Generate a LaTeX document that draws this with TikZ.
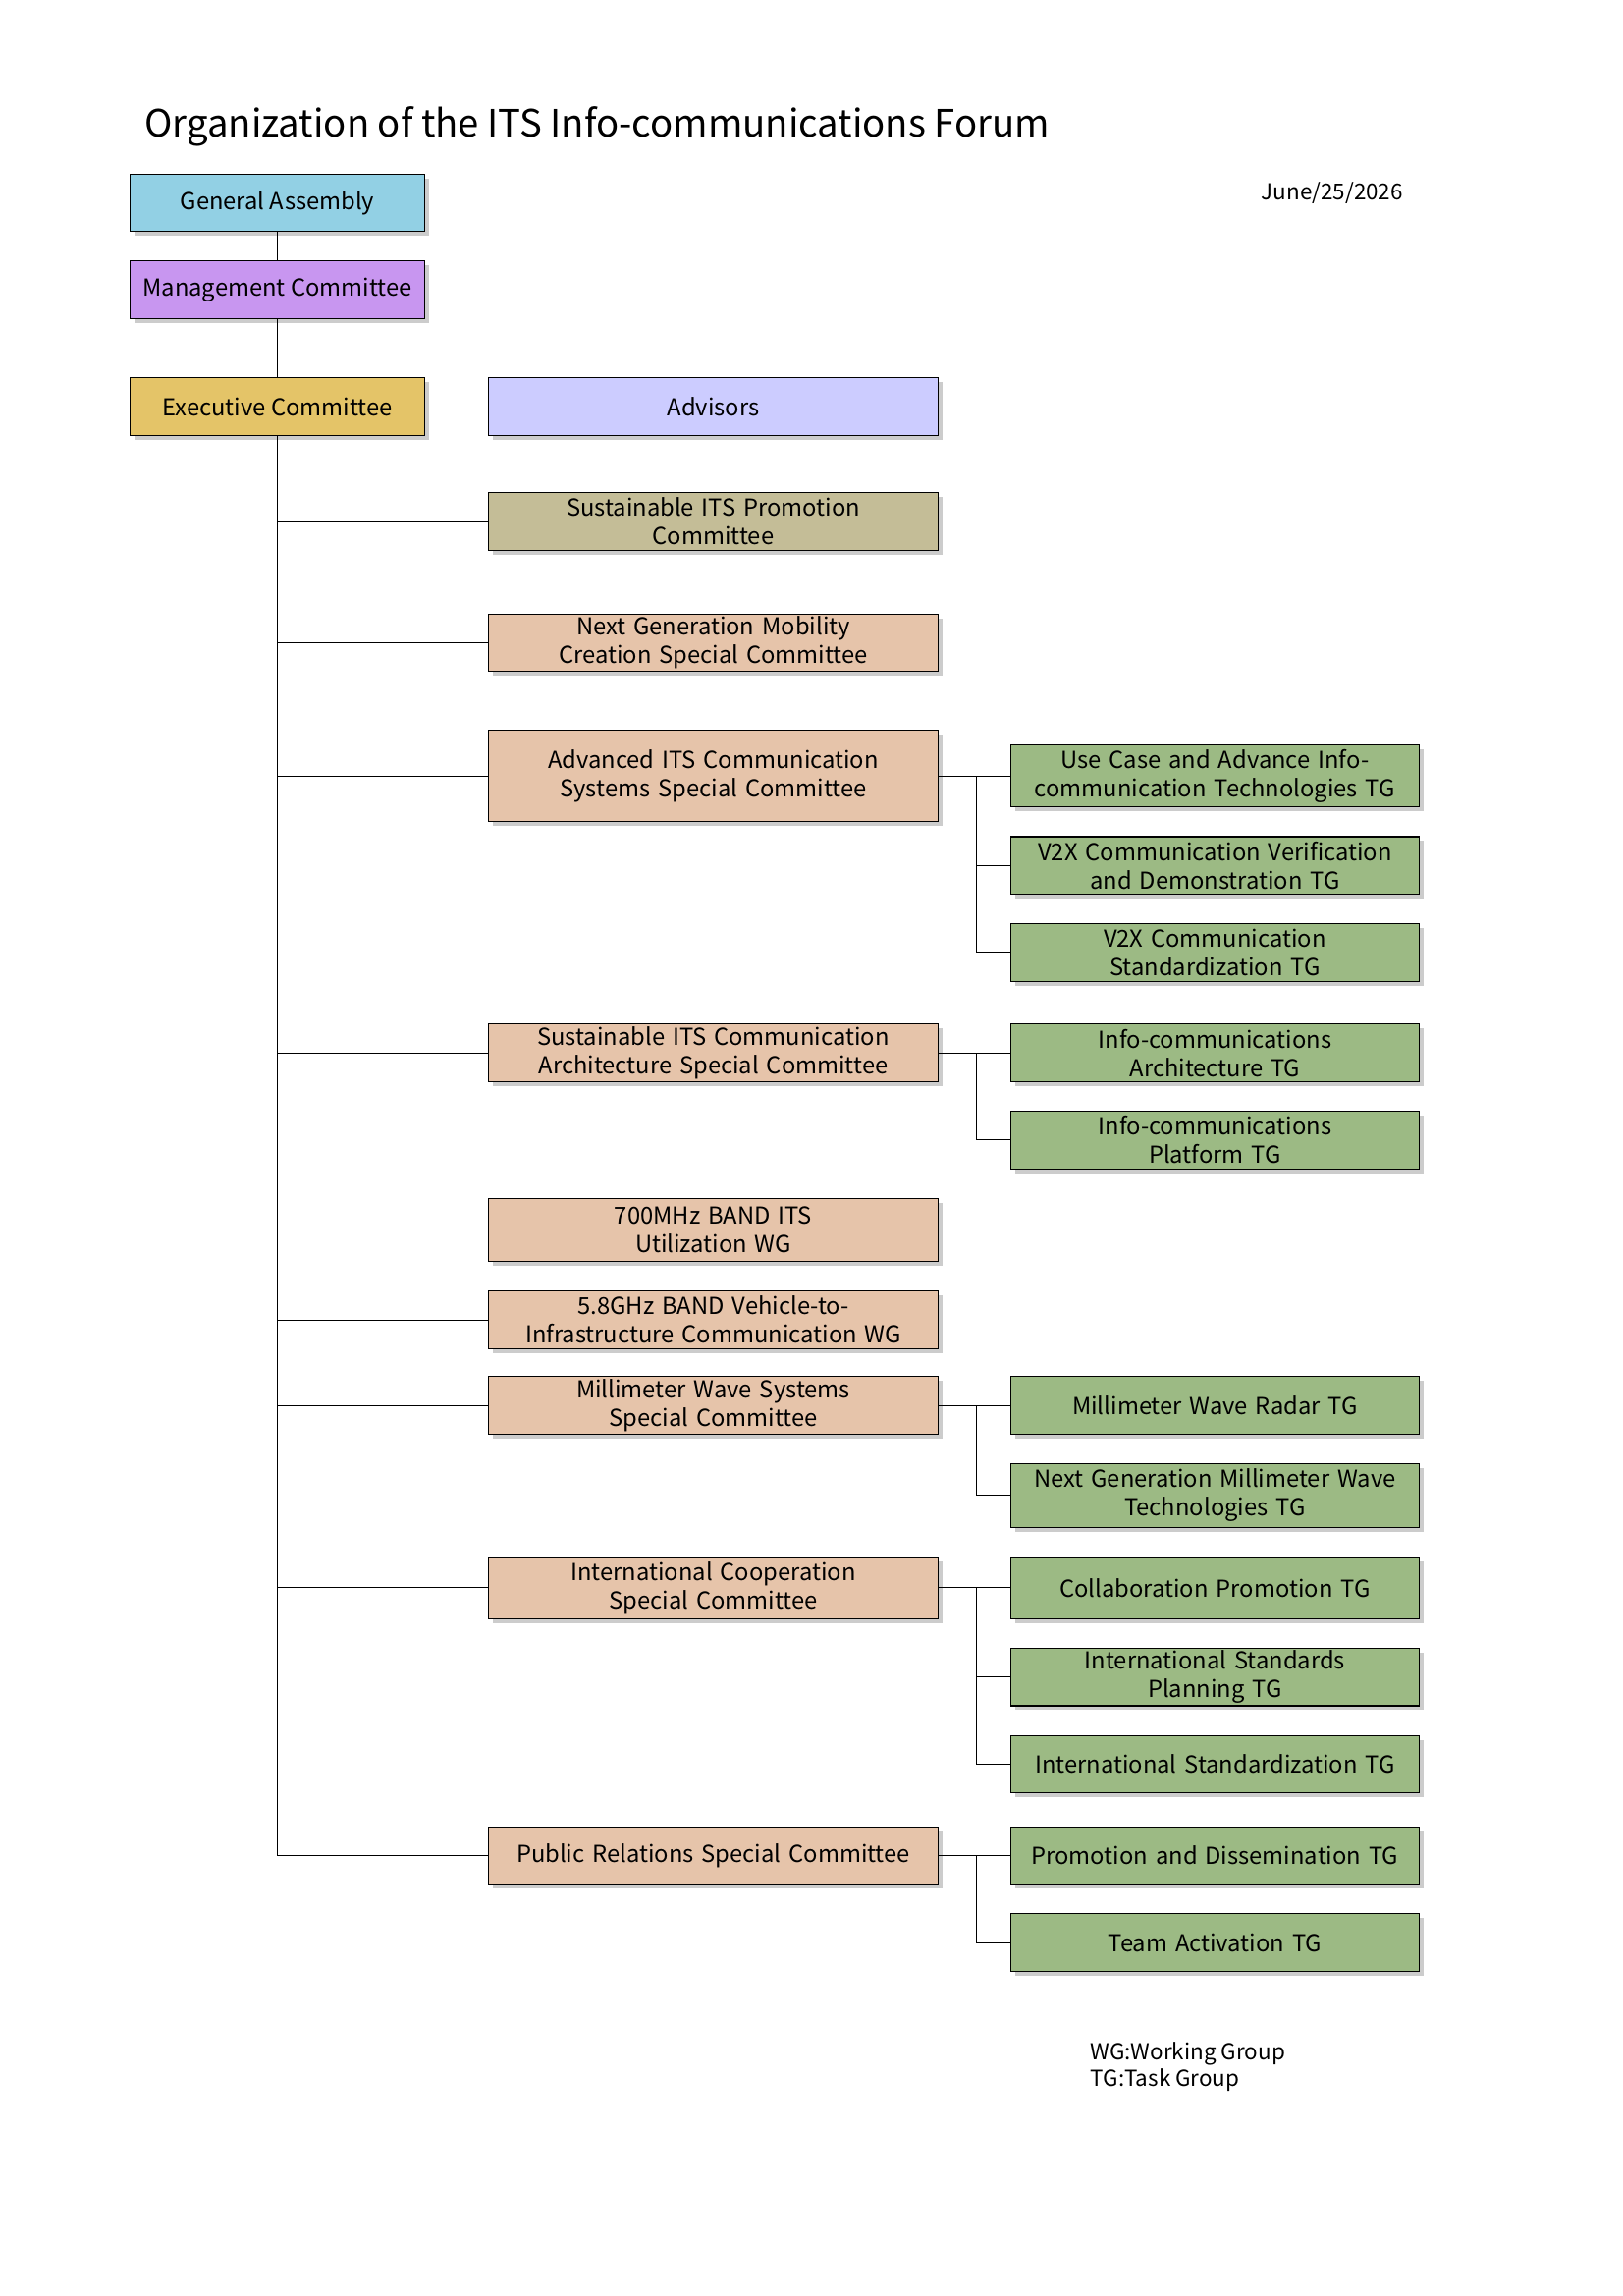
\documentclass[tikz,border=0pt]{standalone}
\usepackage{fontspec}
\setmainfont{Noto Sans CJK JP}
\usetikzlibrary{shadows}
\definecolor{gacol}{RGB}{146,208,228}
\definecolor{mccol}{RGB}{200,150,240}
\definecolor{eccol}{RGB}{228,196,104}
\definecolor{adcol}{RGB}{204,204,255}
\definecolor{spcol}{RGB}{196,189,151}
\definecolor{sccol}{RGB}{230,196,170}
\definecolor{tgcol}{RGB}{156,186,132}
\tikzset{
 box/.style={draw=black,thin,align=center,font=\fontsize{9}{11}\selectfont,
   drop shadow={shadow xshift=0.6mm,shadow yshift=-0.6mm,fill=black!40},inner sep=0pt},
 top/.style={box,minimum width=4cm,minimum height=0.78cm},
 mid/.style={box,minimum width=6.1cm,text width=6cm},
 tg/.style={box,minimum width=5.54cm,text width=5.4cm,fill=tgcol},
 link/.style={draw=black,thin}
}
\begin{document}
\begin{tikzpicture}[x=0.02cm,y=-0.02cm]
\useasboundingbox (0,0) rectangle (1100,1556);
\node[anchor=west,font=\fontsize{14.5}{16}\selectfont] (title) at (92,86) {Organization of the ITS Info-communications Forum};
\node[font=\fontsize{8.5}{10}\selectfont] (date) at (903,131) {June/25/2026};
% left column
\node[top,fill=gacol] (ga) at (188,137.5) {General Assembly};
\node[top,fill=mccol] (mc) at (188,196.5) {Management Committee};
\node[top,fill=eccol] (ec) at (188,275.5) {Executive Committee};
\node[mid,fill=adcol,minimum height=0.78cm] (adv) at (483.5,275.5) {Advisors};
% middle column
\node[mid,fill=spcol,minimum height=0.78cm] (sp) at (483.5,353.5) {Sustainable ITS Promotion\\Committee};
\node[mid,fill=sccol,minimum height=0.78cm] (ng) at (483.5,435.5) {Next Generation Mobility\\Creation Special Committee};
\node[mid,fill=sccol,minimum height=1.24cm] (adv2) at (483.5,526) {Advanced ITS Communication\\Systems Special Committee};
\node[mid,fill=sccol,minimum height=0.78cm] (sca) at (483.5,713.5) {Sustainable ITS Communication\\Architecture Special Committee};
\node[mid,fill=sccol,minimum height=0.86cm] (mhz) at (483.5,833.5) {700MHz BAND ITS\\Utilization WG};
\node[mid,fill=sccol,minimum height=0.78cm] (ghz) at (483.5,894.5) {5.8GHz BAND Vehicle-to-\\Infrastructure Communication WG};
\node[mid,fill=sccol,minimum height=0.78cm] (mmw) at (483.5,952.5) {Millimeter Wave Systems\\Special Committee};
\node[mid,fill=sccol,minimum height=0.84cm] (icc) at (483.5,1076) {International Cooperation\\Special Committee};
\node[mid,fill=sccol,minimum height=0.78cm] (prc) at (483.5,1257.5) {Public Relations Special Committee};
% right column
\node[tg,minimum height=0.84cm] (uc) at (823.5,526) {Use Case and Advance Info-\\communication Technologies TG};
\node[tg,minimum height=0.78cm] (vv) at (823.5,586.5) {V2X Communication Verification\\and Demonstration TG};
\node[tg,minimum height=0.78cm] (vs) at (823.5,645.5) {V2X Communication\\Standardization TG};
\node[tg,minimum height=0.78cm] (ia) at (823.5,713.5) {Info-communications\\Architecture TG};
\node[tg,minimum height=0.78cm] (ip) at (823.5,772.5) {Info-communications\\Platform TG};
\node[tg,minimum height=0.78cm] (mr) at (823.5,952.5) {Millimeter Wave Radar TG};
\node[tg,minimum height=0.86cm] (nm) at (823.5,1013.5) {Next Generation Millimeter Wave\\Technologies TG};
\node[tg,minimum height=0.84cm] (cp) at (823.5,1076) {Collaboration Promotion TG};
\node[tg,minimum height=0.78cm] (isp) at (823.5,1136.5) {International Standards\\Planning TG};
\node[tg,minimum height=0.78cm] (ist) at (823.5,1195.5) {International Standardization TG};
\node[tg,minimum height=0.78cm] (pd) at (823.5,1257.5) {Promotion and Dissemination TG};
\node[tg,minimum height=0.78cm] (ta) at (823.5,1316.5) {Team Activation TG};
\node[anchor=north west,align=left,font=\fontsize{8.5}{10}\selectfont] (note) at (733,1378) {WG:Working Group\\TG:Task Group};
% connectors
\draw[link] (ga) -- (mc);
\draw[link] (mc) -- (ec);
\coordinate (spine) at (188,1257.5);
\draw[link] (ec.south) -- (spine) -- (prc.west);
\foreach \n in {sp,ng,adv2,sca,mhz,ghz,mmw,icc}
  \draw[link] (\n.west) -- (\n.west -| spine);
\coordinate (r1) at (662,0);
\draw[link] (adv2.east) -- (uc.west);
\foreach \n in {vv,vs} \draw[link] (adv2.east -| r1) |- (\n.west);
\draw[link] (sca.east) -- (ia.west);
\draw[link] (sca.east -| r1) |- (ip.west);
\draw[link] (mmw.east) -- (mr.west);
\draw[link] (mmw.east -| r1) |- (nm.west);
\draw[link] (icc.east) -- (cp.west);
\foreach \n in {isp,ist} \draw[link] (icc.east -| r1) |- (\n.west);
\draw[link] (prc.east) -- (pd.west);
\draw[link] (prc.east -| r1) |- (ta.west);
\end{tikzpicture}
\end{document}
